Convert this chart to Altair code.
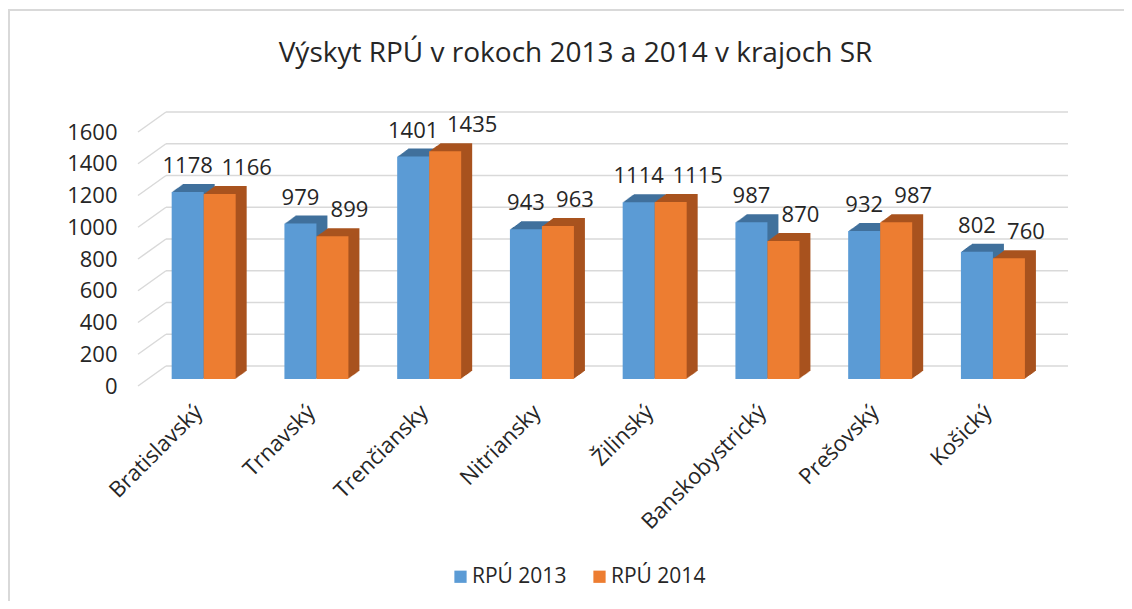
import json
import altair as alt
import pandas as pd

# ---- data ----
regions = ["Bratislavský", "Trnavský", "Trenčiansky", "Nitriansky",
           "Žilinský", "Banskobystrický", "Prešovský", "Košický"]
rpu_2013 = [1178, 979, 1401, 943, 1114, 987, 932, 802]
rpu_2014 = [1166, 899, 1435, 963, 1115, 870, 987, 760]
series = ["RPÚ 2013", "RPÚ 2014"]
y_ticks = [0, 200, 400, 600, 800, 1000, 1200, 1400, 1600]
title_text = "Výskyt RPÚ v rokoch 2013 a 2014 v krajoch SR"

# ---- styles / layout (pixels) ----
front_colors = ["#5B9BD5", "#ED7D31"]
depth_colors = ["#41719C", "#A9531F"]
grid_color = "#D9D9D9"
text_color = "#262626"
FONT = "Open Sans"

VW, VH = 1116, 593                 # whole chart (view) size
PX0, PX1 = 130, 1032               # plot x range (front plane)
PY0, PY1 = 378, 124                # plot y range (0 -> 1600), front plane
DEPTH_X, DEPTH_Y = 28, -20         # back wall offset
BAR_SHIFT_Y = -7                   # bars sit in middle of the depth
EXT_X, EXT_Y, N = 11, -8, 11       # bar extrusion
n = len(regions)
step = (PX1 - PX0) / n
bar_w = 32
blue_left = (step - 2 * bar_w) / 2 + 9.3
b0 = blue_left / step
b1 = (blue_left + bar_w) / step
bw = bar_w / step

df = pd.DataFrame({
    "region": regions * 2,
    "idx": list(range(n)) * 2,
    "series": [series[0]] * n + [series[1]] * n,
    "value": rpu_2013 + rpu_2014,
})
grid_df = pd.DataFrame({"v": y_ticks})
one = pd.DataFrame({"d": [0]})

xscale = alt.Scale(domain=[0, n], range=[PX0, PX1], nice=False, zero=False)
yscale = alt.Scale(domain=[0, 1600], range=[PY0, PY1], nice=False, zero=True)

label_expr = json.dumps(regions, ensure_ascii=False) + "[floor(datum.value)]"
xaxis = alt.Axis(values=[i + 0.5 for i in range(n)], labelExpr=label_expr,
                 labelAngle=-45, labelAlign="right", labelBaseline="middle",
                 labelPadding=22, labelOffset=4, labelOverlap=False,
                 labelFlush=False, domain=False, ticks=False, grid=False,
                 offset=-(VH - PY0), title=None, labelFontSize=22,
                 labelFont=FONT, labelColor=text_color)
yaxis = alt.Axis(values=y_ticks, format="d", grid=False, domain=False, ticks=False,
                 labelFontSize=22, labelFont=FONT, labelColor=text_color,
                 labelPadding=21, offset=-PX0, title=None)

bar_x0 = f"datum.idx + (datum.series == '{series[0]}' ? {b0} : {b1})"

# frame (top & left border of the chart area)
frame_top = alt.Chart(one).mark_rule(color=grid_color, strokeWidth=2).encode(
    x=alt.value(0), x2=alt.value(VW), y=alt.value(2))
frame_left = alt.Chart(one).mark_rule(color=grid_color, strokeWidth=2).encode(
    x=alt.value(1), y=alt.value(1), y2=alt.value(VH))

# back-wall gridlines
grid = alt.Chart(grid_df).mark_rule(
    color=grid_color, strokeWidth=1.5, xOffset=DEPTH_X, x2Offset=DEPTH_X, yOffset=DEPTH_Y
).encode(
    y=alt.Y("v:Q", scale=yscale, axis=yaxis),
    x=alt.X(datum=0, scale=xscale, axis=xaxis),
    x2=alt.X2(datum=n),
)
# side diagonals
diag = alt.Chart(grid_df).mark_rule(
    color=grid_color, strokeWidth=1.5, x2Offset=DEPTH_X, y2Offset=DEPTH_Y
).encode(
    y=alt.Y("v:Q", scale=yscale, axis=yaxis),
    y2=alt.Y2("v"),
    x=alt.X(datum=0, scale=xscale, axis=xaxis),
    x2=alt.X2(datum=0),
)

yenc = alt.Y("value:Q", scale=yscale, axis=yaxis)
xenc = alt.X("x0:Q", scale=xscale, axis=xaxis)

def bars_base():
    return alt.Chart(df).transform_calculate(x0=bar_x0).transform_calculate(
        x1=f"datum.x0 + {bw}")

# extrusion (3D depth) layers
depth_layers = []
for k in range(N, 0, -1):
    dx = EXT_X * k / N
    dy = BAR_SHIFT_Y + EXT_Y * k / N
    depth_layers.append(
        bars_base().mark_bar(xOffset=dx, x2Offset=dx, yOffset=dy, y2Offset=dy).encode(
            x=xenc, x2="x1:Q", y=yenc, y2=alt.Y2(datum=0),
            color=alt.condition(alt.datum.series == series[0],
                                alt.value(depth_colors[0]), alt.value(depth_colors[1])),
        )
    )

front = bars_base().mark_bar(yOffset=BAR_SHIFT_Y, y2Offset=BAR_SHIFT_Y).encode(
    x=xenc, x2="x1:Q", y=yenc, y2=alt.Y2(datum=0),
    color=alt.Color("series:N", scale=alt.Scale(domain=series, range=front_colors),
                    legend=alt.Legend(title=None, orient="none", legendX=442, legendY=558,
                                      direction="horizontal", symbolType="square",
                                      symbolSize=150, symbolStrokeWidth=0,
                                      labelFontSize=21, labelFont=FONT,
                                      labelColor=text_color, columnPadding=22,
                                      labelOffset=1)),
)

# value labels: centred over the bar; 2014 labels nudged right (Excel-like)
labels = alt.Chart(df).transform_calculate(x0=bar_x0).transform_calculate(
    lx=(f"datum.x0 + {bw / 2} + (datum.series == '{series[1]}' ? "
        f"(datum.value >= 1000 ? {27 / step} : {17 / step}) : 0)")
).mark_text(
    font=FONT, fontSize=22, color=text_color, baseline="alphabetic",
    dy=BAR_SHIFT_Y - 19
).encode(
    x=alt.X("lx:Q", scale=xscale, axis=xaxis),
    y=yenc,
    text="value:Q",
)

chart = alt.layer(
    frame_top, frame_left, grid, diag, *depth_layers, front, labels
).properties(
    width=VW, height=VH,
    title=alt.TitleParams(title_text, fontSize=28, font=FONT, fontWeight="normal",
                          color=text_color, anchor="middle", baseline="alphabetic",
                          offset=-82, dx=9.5),
    autosize=alt.AutoSizeParams(type="none"),
    padding=0,
).configure_view(stroke=None)

chart.save("out.html", embed_options={"renderer": "svg", "actions": False})
